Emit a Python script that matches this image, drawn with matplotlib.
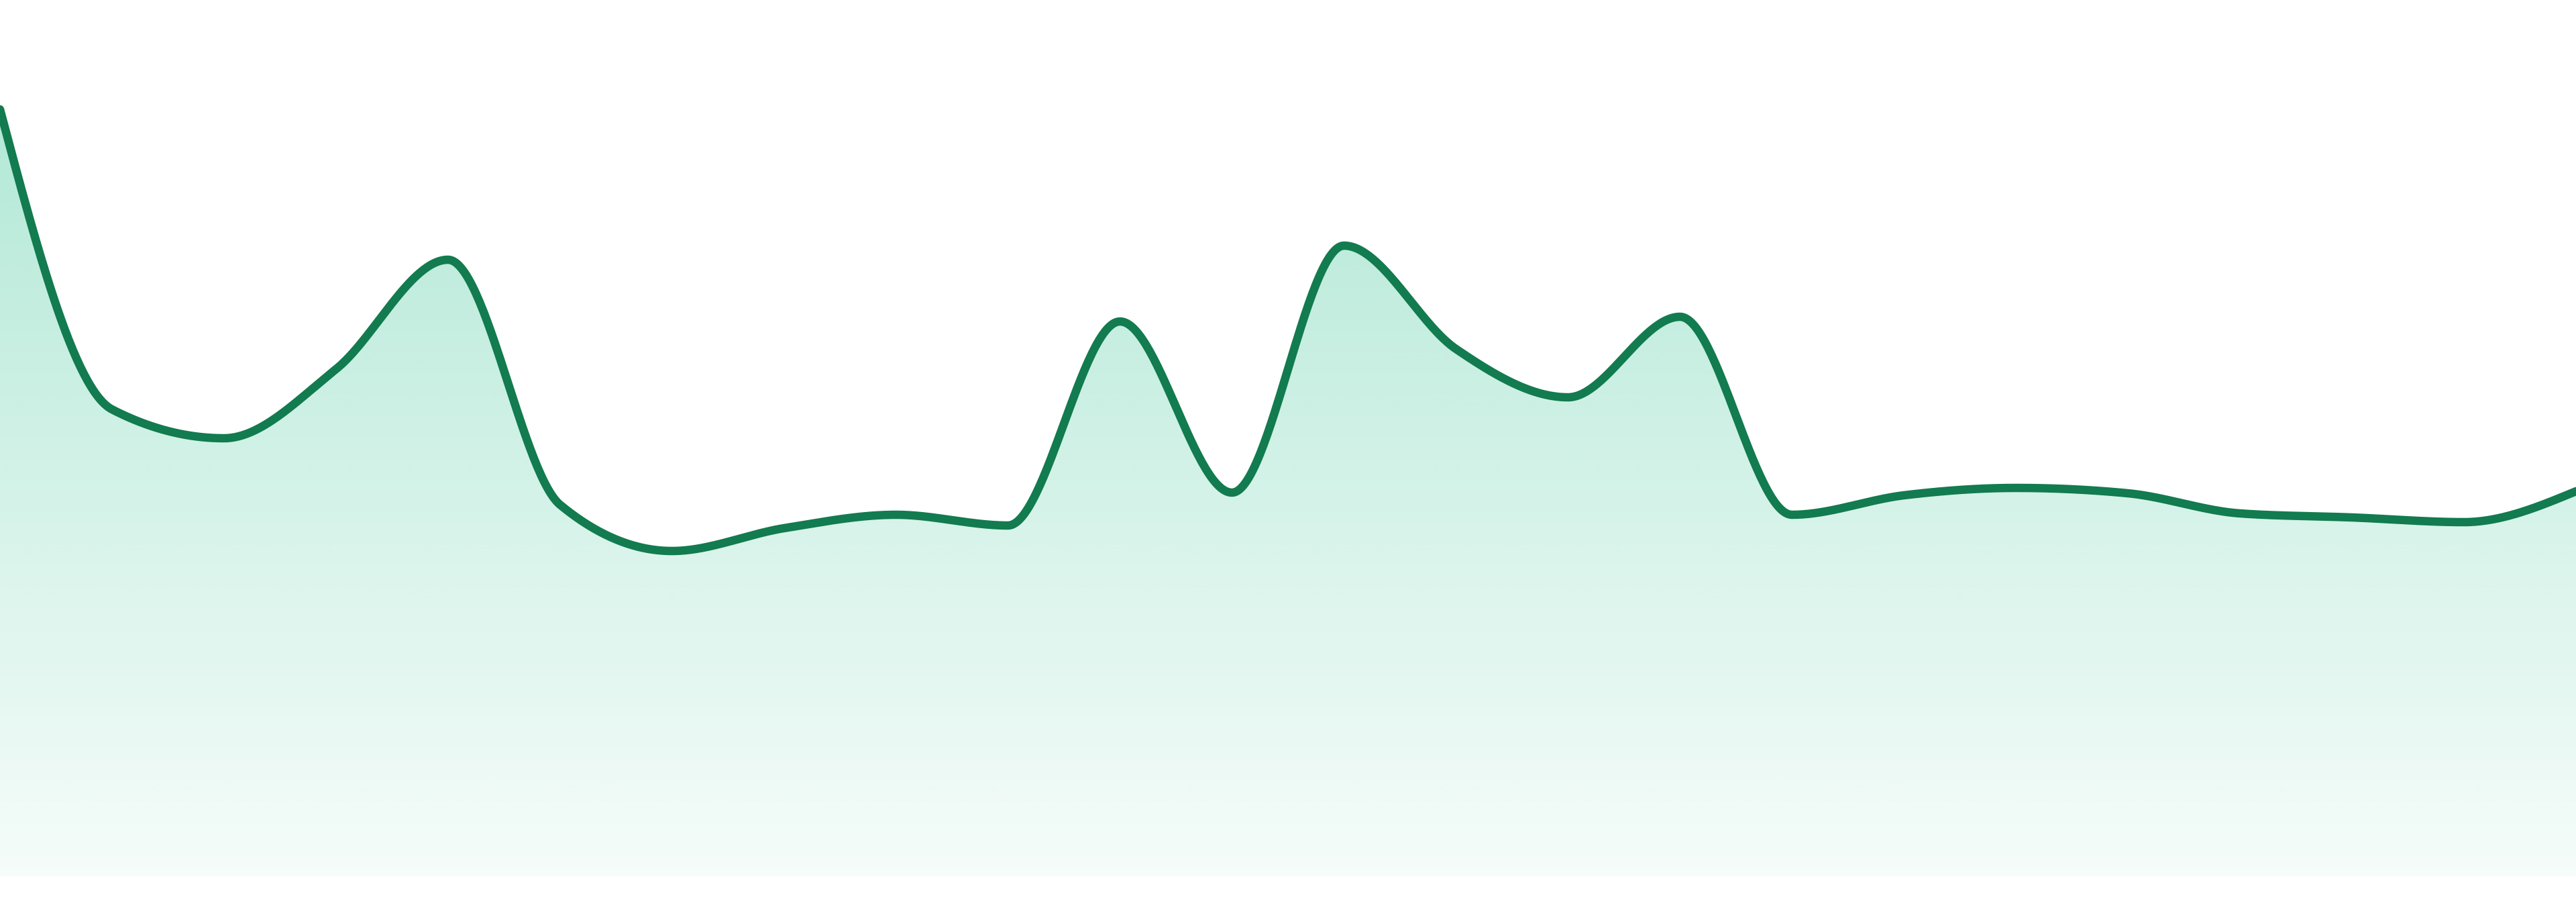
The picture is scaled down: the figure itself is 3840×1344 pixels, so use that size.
import numpy as np
import matplotlib
matplotlib.use("Agg")
import matplotlib.pyplot as plt
from matplotlib.colors import to_rgb

# ---- data ----
points = list(range(24))
values = [114.2, 69.5, 65.2, 75.5, 91.8, 55.3, 48.4, 51.8, 53.8, 52.2,
          82.6, 57.1, 93.9, 78.5, 71.3, 83.3, 53.8, 56.7, 57.8, 57.0,
          54.0, 53.4, 52.7, 57.3]
y_lim = (-3.9, 130.5)

line_color = "#127b4f"
fill_color = "#10b981"


def monotone_x(xs, ys, samples=60):
    xs = np.asarray(xs, float)
    ys = np.asarray(ys, float)
    n = len(xs)
    h = np.diff(xs)
    s = np.diff(ys) / h
    t = np.zeros(n)
    for i in range(1, n - 1):
        h0, h1 = h[i - 1], h[i]
        s0, s1 = s[i - 1], s[i]
        p = (s0 * h1 + s1 * h0) / (h0 + h1)
        t[i] = (np.sign(s0) + np.sign(s1)) * min(abs(s0), abs(s1), 0.5 * abs(p))
    t[0] = (3 * s[0] - t[1]) / 2
    t[-1] = (3 * s[-1] - t[-2]) / 2
    out_x, out_y = [], []
    for i in range(n - 1):
        u = np.linspace(0, 1, samples, endpoint=(i == n - 2))
        hh = h[i]
        h00 = 2 * u**3 - 3 * u**2 + 1
        h10 = u**3 - 2 * u**2 + u
        h01 = -2 * u**3 + 3 * u**2
        h11 = u**3 - u**2
        out_x.append(xs[i] + u * hh)
        out_y.append(h00 * ys[i] + h10 * hh * t[i] + h01 * ys[i + 1] + h11 * hh * t[i + 1])
    return np.concatenate(out_x), np.concatenate(out_y)


sx, sy = monotone_x(points, values)

fig = plt.figure(figsize=(38.4, 13.44), dpi=100)
ax = fig.add_axes([0, 0, 1, 1])
ax.set_xlim(points[0], points[-1])
ax.set_ylim(*y_lim)
ax.axis("off")

# gradient fill clipped to the area under the curve
poly = ax.fill_between(sx, 0, sy, facecolor="none", edgecolor="none")
top = max(values)
nrow = 600
yy = np.linspace(0, top, nrow)
frac = yy / top
alpha = 0.04 + (0.32 - 0.04) * frac
rgb = np.array(to_rgb(fill_color))
img = np.ones((nrow, 2, 4))
img[:, :, :3] = rgb
img[:, :, 3] = alpha[:, None]
im = ax.imshow(img, extent=[points[0], points[-1], 0, top], origin="lower",
               aspect="auto", interpolation="bilinear", zorder=1)
im.set_clip_path(poly.get_paths()[0], transform=ax.transData)

ax.plot(sx, sy, color=line_color, lw=9, solid_capstyle="round",
        solid_joinstyle="round", zorder=3)

fig.savefig("out.png", dpi=100, facecolor="white")
